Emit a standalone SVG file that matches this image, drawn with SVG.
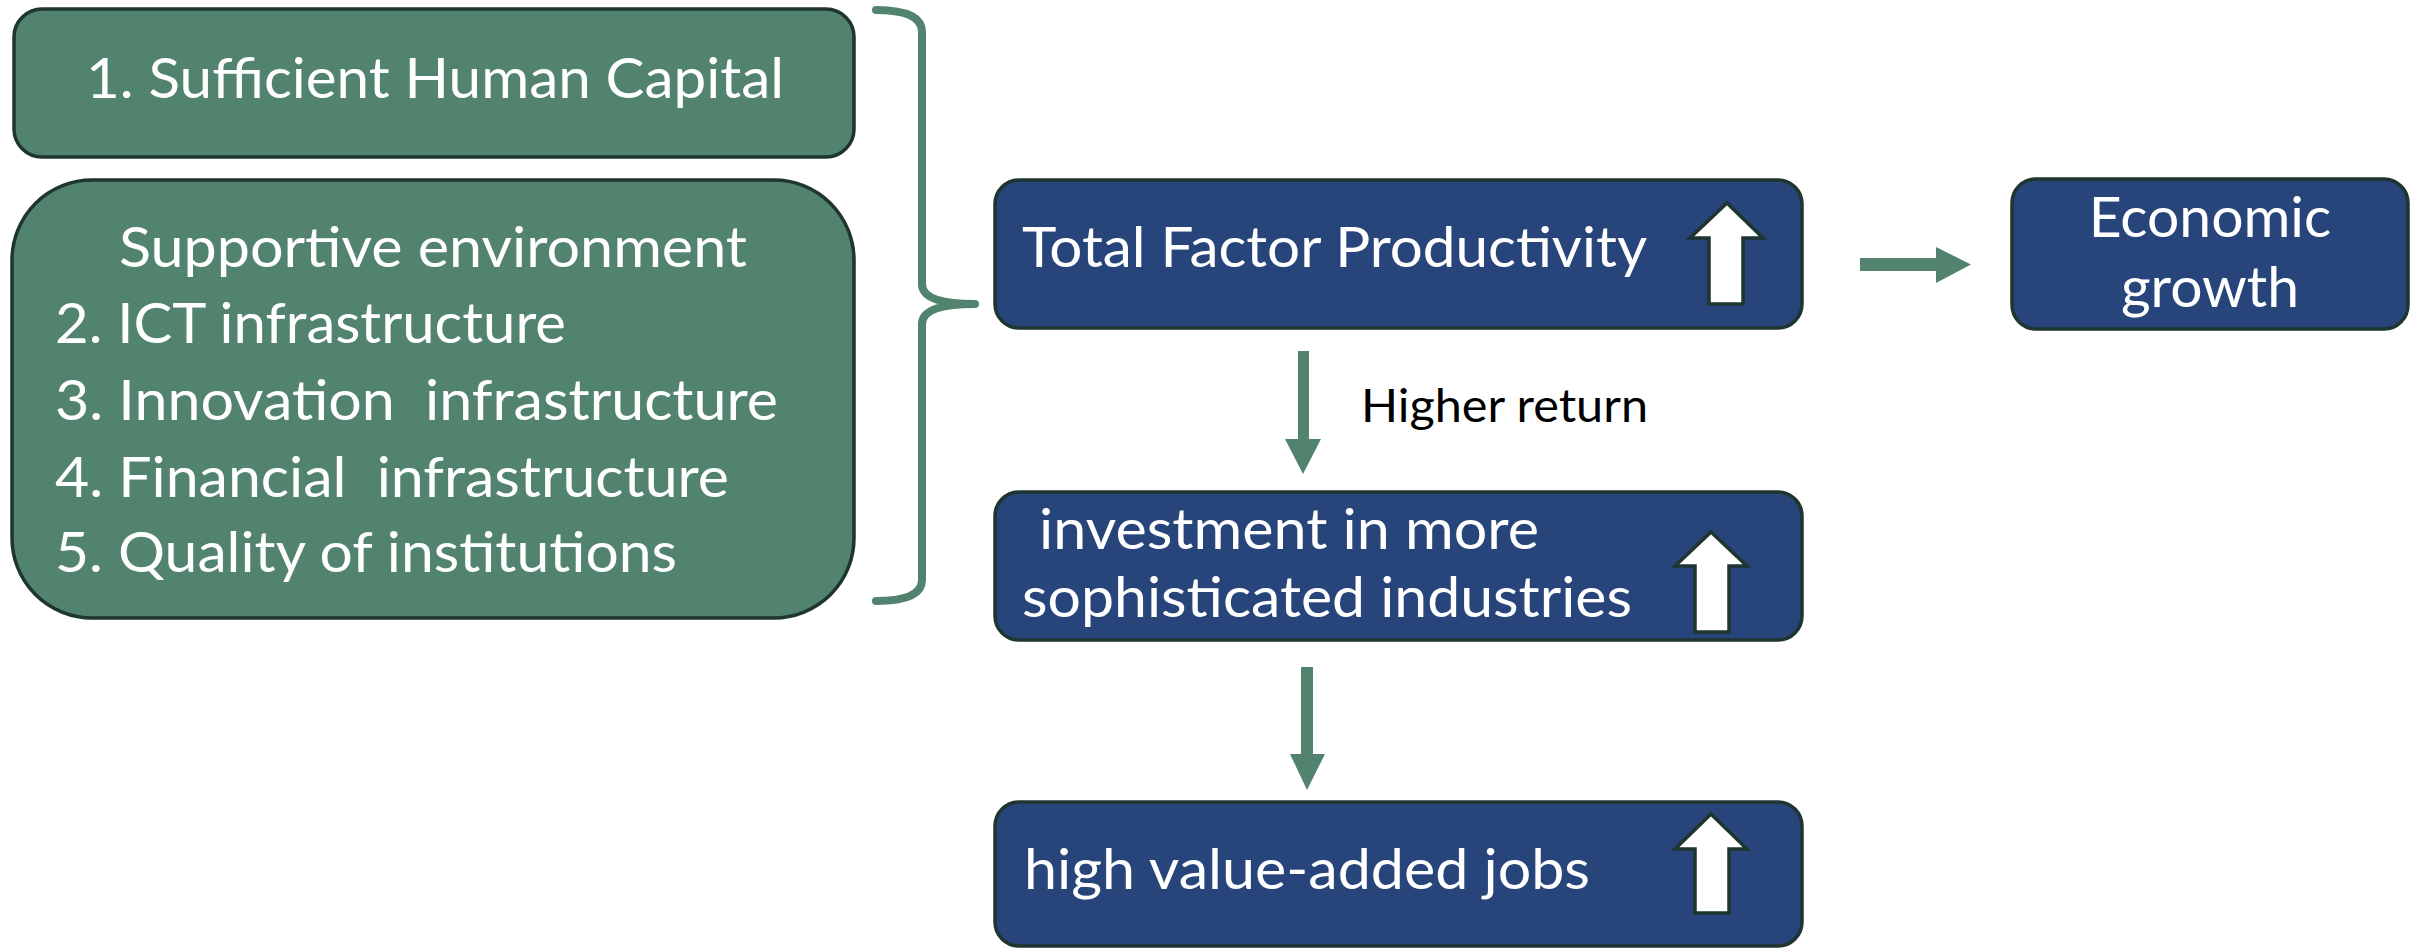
<svg xmlns="http://www.w3.org/2000/svg" width="2420" height="951" viewBox="0 0 2420 951">
  <style>
    .green { fill: #52836F; stroke: #1F3530; stroke-width: 3.5; }
    .blue { fill: #27457A; stroke: #1F3530; stroke-width: 3.5; }
    .up { fill: #FFFFFF; stroke: #1F3530; stroke-width: 3.5; stroke-linejoin: miter; }
    .conn { fill: #52836F; stroke: none; }
    .brace { fill: none; stroke: #52836F; stroke-width: 8; stroke-linecap: round; stroke-linejoin: round; }
    .t { font-family: Lato, "Open Sans", "Liberation Sans", sans-serif; font-size: 57px; fill: #FFFFFF; white-space: pre; }
    .lbl { font-family: Lato, "Open Sans", "Liberation Sans", sans-serif; font-size: 47px; fill: #000000; }
  </style>

  <!-- Input factors -->
  <g id="human-capital">
    <rect class="green" x="14" y="9" width="840" height="148" rx="28" ry="28"/>
    <text class="t" x="86" y="98" textLength="698" lengthAdjust="spacingAndGlyphs">1. Sufficient Human Capital</text>
  </g>

  <g id="supportive-environment">
    <rect class="green" x="12" y="180" width="842" height="438" rx="80" ry="80"/>
    <text class="t" x="119" y="267" textLength="628" lengthAdjust="spacingAndGlyphs">Supportive environment</text>
    <text class="t" x="55" y="343" textLength="511" lengthAdjust="spacingAndGlyphs">2. ICT infrastructure</text>
    <text class="t" x="55" y="420" textLength="723" lengthAdjust="spacingAndGlyphs" xml:space="preserve">3. Innovation  infrastructure</text>
    <text class="t" x="55" y="497" textLength="674" lengthAdjust="spacingAndGlyphs" xml:space="preserve">4. Financial  infrastructure</text>
    <text class="t" x="55" y="572" textLength="622" lengthAdjust="spacingAndGlyphs">5. Quality of institutions</text>
  </g>

  <!-- Outcomes -->
  <g id="tfp">
    <rect class="blue" x="995" y="180" width="807" height="148" rx="24" ry="24"/>
    <text class="t" x="1022" y="267" textLength="625" lengthAdjust="spacingAndGlyphs">Total Factor Productivity</text>
    <polygon class="up" points="1727,203 1763,238 1743,238 1743,304 1709,304 1709,238 1690,238"/>
  </g>

  <g id="investment">
    <rect class="blue" x="995" y="492" width="807" height="148" rx="24" ry="24"/>
    <text class="t" x="1039" y="549" textLength="500" lengthAdjust="spacingAndGlyphs">investment in more</text>
    <text class="t" x="1022" y="617" textLength="610" lengthAdjust="spacingAndGlyphs">sophisticated industries</text>
    <polygon class="up" points="1711,532 1747,566 1729,566 1729,632 1695,632 1695,566 1675,566"/>
  </g>

  <g id="jobs">
    <rect class="blue" x="995" y="802" width="807" height="144" rx="24" ry="24"/>
    <text class="t" x="1024" y="889" textLength="566" lengthAdjust="spacingAndGlyphs">high value-added jobs</text>
    <polygon class="up" points="1711,814 1747,849 1729,849 1729,913 1695,913 1695,849 1675,849"/>
  </g>

  <g id="economic-growth">
    <rect class="blue" x="2012" y="179" width="396" height="150" rx="24" ry="24"/>
    <text class="t" x="2210" y="237" text-anchor="middle">Economic</text>
    <text class="t" x="2210" y="307" text-anchor="middle">growth</text>
  </g>

  <!-- Connectors -->
  <g id="connectors">
    <path class="brace" d="M876 10 Q922 10 922 32 L922 284 Q922 304 975 304 M975 304 Q922 304 922 324 L922 580 Q922 601 876 601"/>
    <polygon class="conn" points="1298,351 1309,351 1309,439 1321,439 1303,474 1285,439 1298,439"/>
    <text class="lbl" x="1361" y="422" textLength="287" lengthAdjust="spacingAndGlyphs">Higher return</text>
    <polygon class="conn" points="1301,667 1313,667 1313,754 1325,754 1307,790 1290,754 1301,754"/>
    <polygon class="conn" points="1860,258 1936,258 1936,247 1971,264.5 1936,283 1936,271 1860,271"/>
  </g>
</svg>
